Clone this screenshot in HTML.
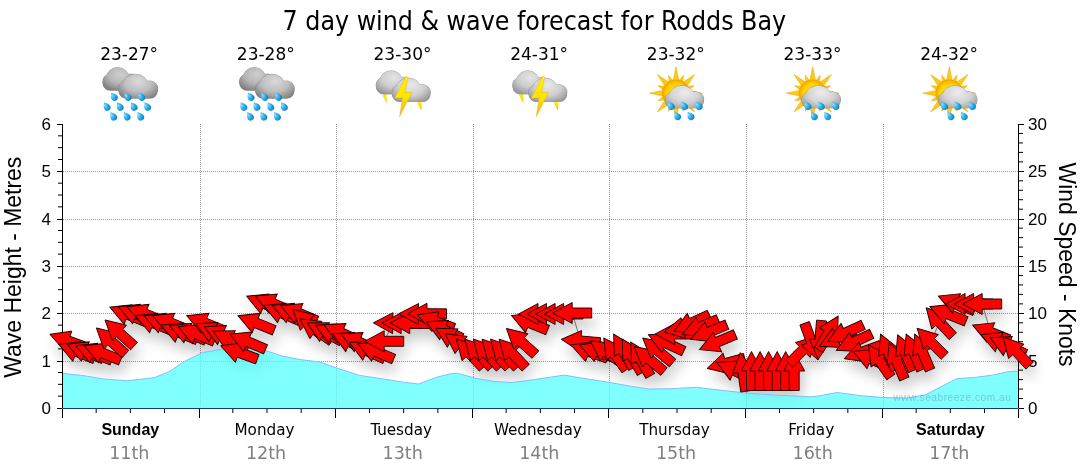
<!DOCTYPE html><html><head><meta charset="utf-8"><title>7 day wind &amp; wave forecast for Rodds Bay</title>
<style>html,body{margin:0;padding:0;background:#fff;width:1080px;height:475px;overflow:hidden}svg{display:block}.t{font-family:"DejaVu Sans Condensed","DejaVu Sans","Liberation Sans",sans-serif;font-stretch:condensed}.a{font-family:"Liberation Sans",Arial,sans-serif}.m{font-family:"DejaVu Sans Mono","Liberation Mono",monospace}.v{font-family:"DejaVu Sans","Liberation Sans",sans-serif}</style></head><body>
<svg width="1080" height="475" viewBox="0 0 1080 475">
<defs><filter id="sh" x="-10%" y="-20%" width="130%" height="160%"><feGaussianBlur in="SourceAlpha" stdDeviation="6.5"/><feOffset dx="3" dy="9" result="b"/><feComponentTransfer><feFuncA type="linear" slope="0.22"/></feComponentTransfer></filter><radialGradient id="dropg" cx="0.35" cy="0.3" r="0.8"><stop offset="0" stop-color="#8fe0ff"/><stop offset="0.5" stop-color="#2fb0ea"/><stop offset="1" stop-color="#0a78c0"/></radialGradient><linearGradient id="boltg" x1="0" y1="0" x2="0" y2="1"><stop offset="0" stop-color="#fff200"/><stop offset="0.55" stop-color="#ffe200"/><stop offset="1" stop-color="#f0a830"/></linearGradient><radialGradient id="sung" cx="0.5" cy="0.5" r="0.5"><stop offset="0" stop-color="#ffe400"/><stop offset="0.7" stop-color="#ffd200"/><stop offset="1" stop-color="#f0a000"/></radialGradient><linearGradient id="rayg" x1="0" y1="0" x2="1" y2="0"><stop offset="0" stop-color="#f5b000"/><stop offset="0.5" stop-color="#ffe000"/><stop offset="1" stop-color="#f5b000"/></linearGradient><radialGradient id="rc1" gradientUnits="userSpaceOnUse" cx="-10.1" cy="74.4" r="22.4" gradientTransform="translate(-10.1,74.4) scale(1,0.75) translate(10.1,-74.4)"><stop offset="0" stop-color="#cfcfcf"/><stop offset="0.55" stop-color="#b5b5b5"/><stop offset="1" stop-color="#808080"/></radialGradient><radialGradient id="rc2" gradientUnits="userSpaceOnUse" cx="7.9" cy="81.4" r="25.2" gradientTransform="translate(7.9,81.4) scale(1,0.75) translate(-7.9,-81.4)"><stop offset="0" stop-color="#dadada"/><stop offset="0.55" stop-color="#bebebe"/><stop offset="1" stop-color="#828282"/></radialGradient><radialGradient id="sc1" gradientUnits="userSpaceOnUse" cx="-10.0" cy="77.8" r="22.7" gradientTransform="translate(-10.0,77.8) scale(1,0.75) translate(10.0,-77.8)"><stop offset="0" stop-color="#e4e4e4"/><stop offset="0.55" stop-color="#cdcdcd"/><stop offset="1" stop-color="#989898"/></radialGradient><radialGradient id="sc2" gradientUnits="userSpaceOnUse" cx="7.5" cy="85.2" r="24.7" gradientTransform="translate(7.5,85.2) scale(1,0.75) translate(-7.5,-85.2)"><stop offset="0" stop-color="#e8e8e8"/><stop offset="0.55" stop-color="#d0d0d0"/><stop offset="1" stop-color="#989898"/></radialGradient><radialGradient id="uc1" gradientUnits="userSpaceOnUse" cx="7.5" cy="92.4" r="24.9" gradientTransform="translate(7.5,92.4) scale(1,0.75) translate(-7.5,-92.4)"><stop offset="0" stop-color="#ececec"/><stop offset="0.55" stop-color="#d4d4d4"/><stop offset="1" stop-color="#9c9c9c"/></radialGradient><g id="rain"><g fill="url(#rc1)" stroke="#7a7a7a" stroke-width="0.9" stroke-opacity="0.75"><rect x="-27.12" y="77.13" width="33.93" height="13.17" rx="6.58"/><ellipse cx="-12.68" cy="77.13" rx="10.83" ry="9.53"/><ellipse cx="-0.04" cy="81.22" rx="7.22" ry="7.26"/><ellipse cx="-22.06" cy="81.67" rx="5.42" ry="6.81"/></g><g fill="url(#rc1)"><rect x="-27.12" y="77.13" width="33.93" height="13.17" rx="6.58"/><ellipse cx="-12.68" cy="77.13" rx="10.83" ry="9.53"/><ellipse cx="-0.04" cy="81.22" rx="7.22" ry="7.26"/><ellipse cx="-22.06" cy="81.67" rx="5.42" ry="6.81"/></g><g fill="url(#rc2)" stroke="#7a7a7a" stroke-width="0.9" stroke-opacity="0.75"><rect x="-11.28" y="84.28" width="38.26" height="13.92" rx="6.96"/><ellipse cx="5.00" cy="84.28" rx="12.21" ry="10.08"/><ellipse cx="19.25" cy="88.60" rx="8.14" ry="7.68"/><ellipse cx="-5.58" cy="89.08" rx="6.11" ry="7.20"/></g><g fill="url(#rc2)"><rect x="-11.28" y="84.28" width="38.26" height="13.92" rx="6.96"/><ellipse cx="5.00" cy="84.28" rx="12.21" ry="10.08"/><ellipse cx="19.25" cy="88.60" rx="8.14" ry="7.68"/><ellipse cx="-5.58" cy="89.08" rx="6.11" ry="7.20"/></g><path d="M0,-6.2 C1.2,-4.2 3.4,-2.4 3.4,0 A3.4,3.4 0 1,1 -3.4,0 C-3.4,-2.4 -1.2,-4.2 0,-6.2Z" transform="translate(-15.9,97.6) rotate(-32) scale(0.98)" fill="url(#dropg)"/><path d="M0,-6.2 C1.2,-4.2 3.4,-2.4 3.4,0 A3.4,3.4 0 1,1 -3.4,0 C-3.4,-2.4 -1.2,-4.2 0,-6.2Z" transform="translate(-2.2,97.6) rotate(-32) scale(0.98)" fill="url(#dropg)"/><path d="M0,-6.2 C1.2,-4.2 3.4,-2.4 3.4,0 A3.4,3.4 0 1,1 -3.4,0 C-3.4,-2.4 -1.2,-4.2 0,-6.2Z" transform="translate(11.5,97.6) rotate(-32) scale(0.98)" fill="url(#dropg)"/><path d="M0,-6.2 C1.2,-4.2 3.4,-2.4 3.4,0 A3.4,3.4 0 1,1 -3.4,0 C-3.4,-2.4 -1.2,-4.2 0,-6.2Z" transform="translate(-23.1,107.4) rotate(-32) scale(0.98)" fill="url(#dropg)"/><path d="M0,-6.2 C1.2,-4.2 3.4,-2.4 3.4,0 A3.4,3.4 0 1,1 -3.4,0 C-3.4,-2.4 -1.2,-4.2 0,-6.2Z" transform="translate(-10.0,107.4) rotate(-32) scale(0.98)" fill="url(#dropg)"/><path d="M0,-6.2 C1.2,-4.2 3.4,-2.4 3.4,0 A3.4,3.4 0 1,1 -3.4,0 C-3.4,-2.4 -1.2,-4.2 0,-6.2Z" transform="translate(3.9,107.4) rotate(-32) scale(0.98)" fill="url(#dropg)"/><path d="M0,-6.2 C1.2,-4.2 3.4,-2.4 3.4,0 A3.4,3.4 0 1,1 -3.4,0 C-3.4,-2.4 -1.2,-4.2 0,-6.2Z" transform="translate(17.4,107.4) rotate(-32) scale(0.98)" fill="url(#dropg)"/><path d="M0,-6.2 C1.2,-4.2 3.4,-2.4 3.4,0 A3.4,3.4 0 1,1 -3.4,0 C-3.4,-2.4 -1.2,-4.2 0,-6.2Z" transform="translate(-16.5,117.2) rotate(-32) scale(0.98)" fill="url(#dropg)"/><path d="M0,-6.2 C1.2,-4.2 3.4,-2.4 3.4,0 A3.4,3.4 0 1,1 -3.4,0 C-3.4,-2.4 -1.2,-4.2 0,-6.2Z" transform="translate(-3.1,117.2) rotate(-32) scale(0.98)" fill="url(#dropg)"/><path d="M0,-6.2 C1.2,-4.2 3.4,-2.4 3.4,0 A3.4,3.4 0 1,1 -3.4,0 C-3.4,-2.4 -1.2,-4.2 0,-6.2Z" transform="translate(10.5,117.2) rotate(-32) scale(0.98)" fill="url(#dropg)"/></g><g id="storm"><path d="M-22.5,91.5 L-18.5,92 L-19.8,94.2 L-17.3,94 L-16.8,103.5 L-21.5,94.8 L-19.5,95 Z" fill="url(#boltg)"/><path d="M11.5,100.5 L19.5,100.5 L16.5,102.8 L18.5,102.8 L17.5,110.5 L13.5,103 L15,103 Z" fill="url(#boltg)"/><g fill="url(#sc1)" stroke="#7a7a7a" stroke-width="0.9" stroke-opacity="0.75"><rect x="-27.20" y="80.54" width="34.40" height="13.46" rx="6.73"/><ellipse cx="-12.56" cy="80.54" rx="10.98" ry="9.74"/><ellipse cx="0.25" cy="84.72" rx="7.32" ry="7.42"/><ellipse cx="-22.08" cy="85.18" rx="5.49" ry="6.96"/></g><g fill="url(#sc1)"><rect x="-27.20" y="80.54" width="34.40" height="13.46" rx="6.73"/><ellipse cx="-12.56" cy="80.54" rx="10.98" ry="9.74"/><ellipse cx="0.25" cy="84.72" rx="7.32" ry="7.42"/><ellipse cx="-22.08" cy="85.18" rx="5.49" ry="6.96"/></g><g fill="url(#sc2)" stroke="#7a7a7a" stroke-width="0.9" stroke-opacity="0.75"><rect x="-11.20" y="87.99" width="37.51" height="13.51" rx="6.76"/><ellipse cx="4.76" cy="87.99" rx="11.97" ry="9.79"/><ellipse cx="18.72" cy="92.18" rx="7.98" ry="7.46"/><ellipse cx="-5.62" cy="92.65" rx="5.98" ry="6.99"/></g><g fill="url(#sc2)"><rect x="-11.20" y="87.99" width="37.51" height="13.51" rx="6.76"/><ellipse cx="4.76" cy="87.99" rx="11.97" ry="9.79"/><ellipse cx="18.72" cy="92.18" rx="7.98" ry="7.46"/><ellipse cx="-5.62" cy="92.65" rx="5.98" ry="6.99"/></g><path d="M2.5,76.0 L4.4,77.3 L1.2,92.6 L8.3,92.3 L-4.1,116.8 L-1.2,97.8 L-9.1,98.3Z" fill="url(#boltg)" stroke="#e8b000" stroke-width="0.4"/></g><g id="sunrain"><path d="M-1.0,66.7 L2.2,82.2 L-4.2,82.2Z M6.5,75.2 L5.6,84.0 L0.8,82.0Z M17.7,74.5 L9.0,87.7 L4.5,83.2Z M17.0,85.7 L10.2,91.4 L8.2,86.6Z M25.5,93.2 L10.0,96.4 L10.0,90.0Z M17.0,100.7 L8.2,99.8 L10.2,95.0Z M17.7,111.9 L4.5,103.2 L9.0,98.7Z M6.5,111.2 L0.8,104.4 L5.6,102.4Z M-1.0,119.7 L-4.2,104.2 L2.2,104.2Z M-8.5,111.2 L-7.6,102.4 L-2.8,104.4Z M-19.7,111.9 L-11.0,98.7 L-6.5,103.2Z M-19.0,100.7 L-12.2,95.0 L-10.2,99.8Z M-27.5,93.2 L-12.0,90.0 L-12.0,96.4Z M-19.0,85.7 L-10.2,86.6 L-12.2,91.4Z M-19.7,74.5 L-6.5,83.2 L-11.0,87.7Z M-8.5,75.2 L-2.8,82.0 L-7.6,84.0Z" fill="#fccc10" stroke="#f0a000" stroke-width="0.5"/><circle cx="-1" cy="93.2" r="13.8" fill="url(#sung)"/><g fill="url(#uc1)" stroke="#7a7a7a" stroke-width="0.9" stroke-opacity="0.75"><rect x="-11.39" y="95.08" width="37.79" height="12.82" rx="6.41"/><ellipse cx="4.69" cy="95.08" rx="12.06" ry="9.28"/><ellipse cx="18.76" cy="99.06" rx="8.04" ry="7.07"/><ellipse cx="-5.77" cy="99.50" rx="6.03" ry="6.63"/></g><g fill="url(#uc1)"><rect x="-11.39" y="95.08" width="37.79" height="12.82" rx="6.41"/><ellipse cx="4.69" cy="95.08" rx="12.06" ry="9.28"/><ellipse cx="18.76" cy="99.06" rx="8.04" ry="7.07"/><ellipse cx="-5.77" cy="99.50" rx="6.03" ry="6.63"/></g><path d="M0,-6.2 C1.2,-4.2 3.4,-2.4 3.4,0 A3.4,3.4 0 1,1 -3.4,0 C-3.4,-2.4 -1.2,-4.2 0,-6.2Z" transform="translate(-5.6,106.7) rotate(-32) scale(0.98)" fill="url(#dropg)"/><path d="M0,-6.2 C1.2,-4.2 3.4,-2.4 3.4,0 A3.4,3.4 0 1,1 -3.4,0 C-3.4,-2.4 -1.2,-4.2 0,-6.2Z" transform="translate(7.7,106.7) rotate(-32) scale(0.98)" fill="url(#dropg)"/><path d="M0,-6.2 C1.2,-4.2 3.4,-2.4 3.4,0 A3.4,3.4 0 1,1 -3.4,0 C-3.4,-2.4 -1.2,-4.2 0,-6.2Z" transform="translate(22.2,106.7) rotate(-32) scale(0.98)" fill="url(#dropg)"/><path d="M0,-6.2 C1.2,-4.2 3.4,-2.4 3.4,0 A3.4,3.4 0 1,1 -3.4,0 C-3.4,-2.4 -1.2,-4.2 0,-6.2Z" transform="translate(0.7,116.8) rotate(-32) scale(0.98)" fill="url(#dropg)"/><path d="M0,-6.2 C1.2,-4.2 3.4,-2.4 3.4,0 A3.4,3.4 0 1,1 -3.4,0 C-3.4,-2.4 -1.2,-4.2 0,-6.2Z" transform="translate(14.0,116.8) rotate(-32) scale(0.98)" fill="url(#dropg)"/></g><path id="arr" d="M19.5,0 L0,-10.5 L0,-5 L-19.5,-5 L-19.5,5 L0,5 L0,10.5Z"/></defs>
<text class="t" x="282.6" y="30" font-size="27" textLength="503.5" lengthAdjust="spacingAndGlyphs" fill="#000">7 day wind &amp; wave forecast for Rodds Bay</text>
<text class="v" x="129.1" y="59.7" font-size="17" text-anchor="middle" fill="#000">23-27°</text>
<use href="#rain" x="130.3" y="0"/>
<text class="v" x="265.8" y="59.7" font-size="17" text-anchor="middle" fill="#000">23-28°</text>
<use href="#rain" x="267.0" y="0"/>
<text class="v" x="402.5" y="59.7" font-size="17" text-anchor="middle" fill="#000">23-30°</text>
<use href="#storm" x="403.7" y="0"/>
<text class="v" x="539.1" y="59.7" font-size="17" text-anchor="middle" fill="#000">24-31°</text>
<use href="#storm" x="540.3" y="0"/>
<text class="v" x="675.8" y="59.7" font-size="17" text-anchor="middle" fill="#000">23-32°</text>
<use href="#sunrain" x="677.0" y="0"/>
<text class="v" x="812.5" y="59.7" font-size="17" text-anchor="middle" fill="#000">23-33°</text>
<use href="#sunrain" x="813.7" y="0"/>
<text class="v" x="949.1" y="59.7" font-size="17" text-anchor="middle" fill="#000">24-32°</text>
<use href="#sunrain" x="950.3" y="0"/>
<path d="M63 361.5H1018 M63 313.5H1018 M63 266.5H1018 M63 219.5H1018 M63 171.5H1018 M200.5 124V408 M336.5 124V408 M473.5 124V408 M609.5 124V408 M746.5 124V408 M883.5 124V408" stroke="#999" stroke-width="1" stroke-dasharray="1 1" fill="none"/>
<g filter="url(#sh)"><use href="#arr" transform="translate(68.2,341.0) rotate(200)"/><use href="#arr" transform="translate(76.7,351.5) rotate(202)"/><use href="#arr" transform="translate(85.3,351.5) rotate(202)"/><use href="#arr" transform="translate(93.8,353.0) rotate(202)"/><use href="#arr" transform="translate(102.4,353.0) rotate(202)"/><use href="#arr" transform="translate(110.9,341.0) rotate(222)"/><use href="#arr" transform="translate(119.5,333.0) rotate(222)"/><use href="#arr" transform="translate(128.0,314.5) rotate(202)"/><use href="#arr" transform="translate(136.5,314.0) rotate(202)"/><use href="#arr" transform="translate(145.1,314.0) rotate(202)"/><use href="#arr" transform="translate(153.6,323.0) rotate(202)"/><use href="#arr" transform="translate(162.2,323.0) rotate(202)"/><use href="#arr" transform="translate(170.7,323.0) rotate(202)"/><use href="#arr" transform="translate(179.2,332.5) rotate(202)"/><use href="#arr" transform="translate(187.8,333.0) rotate(202)"/><use href="#arr" transform="translate(196.3,334.0) rotate(202)"/><use href="#arr" transform="translate(204.9,323.0) rotate(202)"/><use href="#arr" transform="translate(213.4,332.0) rotate(205)"/><use href="#arr" transform="translate(222.0,335.0) rotate(205)"/><use href="#arr" transform="translate(230.5,340.0) rotate(207)"/><use href="#arr" transform="translate(239.0,352.5) rotate(200)"/><use href="#arr" transform="translate(247.6,341.7) rotate(203)"/><use href="#arr" transform="translate(256.1,323.0) rotate(202)"/><use href="#arr" transform="translate(264.7,303.8) rotate(203)"/><use href="#arr" transform="translate(273.2,303.7) rotate(203)"/><use href="#arr" transform="translate(281.7,313.0) rotate(203)"/><use href="#arr" transform="translate(290.3,313.0) rotate(203)"/><use href="#arr" transform="translate(298.8,313.3) rotate(203)"/><use href="#arr" transform="translate(307.4,322.5) rotate(222)"/><use href="#arr" transform="translate(315.9,330.0) rotate(215)"/><use href="#arr" transform="translate(324.5,332.0) rotate(208)"/><use href="#arr" transform="translate(333.0,333.5) rotate(205)"/><use href="#arr" transform="translate(341.5,333.0) rotate(205)"/><use href="#arr" transform="translate(350.1,342.0) rotate(205)"/><use href="#arr" transform="translate(358.6,342.0) rotate(205)"/><use href="#arr" transform="translate(367.2,350.7) rotate(205)"/><use href="#arr" transform="translate(375.7,351.4) rotate(203)"/><use href="#arr" transform="translate(384.2,341.3) rotate(180)"/><use href="#arr" transform="translate(392.8,323.2) rotate(181)"/><use href="#arr" transform="translate(401.3,323.2) rotate(181)"/><use href="#arr" transform="translate(409.9,323.2) rotate(181)"/><use href="#arr" transform="translate(418.4,314.0) rotate(181)"/><use href="#arr" transform="translate(427.0,313.8) rotate(180)"/><use href="#arr" transform="translate(435.5,321.6) rotate(200)"/><use href="#arr" transform="translate(444.0,330.0) rotate(205)"/><use href="#arr" transform="translate(452.6,338.0) rotate(210)"/><use href="#arr" transform="translate(461.1,345.0) rotate(215)"/><use href="#arr" transform="translate(469.7,353.4) rotate(227)"/><use href="#arr" transform="translate(478.2,353.4) rotate(227)"/><use href="#arr" transform="translate(486.7,353.4) rotate(227)"/><use href="#arr" transform="translate(495.3,353.4) rotate(227)"/><use href="#arr" transform="translate(503.8,353.4) rotate(227)"/><use href="#arr" transform="translate(512.4,353.4) rotate(227)"/><use href="#arr" transform="translate(520.9,341.5) rotate(222)"/><use href="#arr" transform="translate(529.5,322.8) rotate(202)"/><use href="#arr" transform="translate(538.0,314.0) rotate(180)"/><use href="#arr" transform="translate(546.5,314.0) rotate(180)"/><use href="#arr" transform="translate(555.1,314.0) rotate(180)"/><use href="#arr" transform="translate(563.6,314.0) rotate(180)"/><use href="#arr" transform="translate(572.2,313.0) rotate(180)"/><use href="#arr" transform="translate(580.7,341.0) rotate(185)"/><use href="#arr" transform="translate(589.2,351.6) rotate(200)"/><use href="#arr" transform="translate(597.8,351.6) rotate(200)"/><use href="#arr" transform="translate(606.3,352.0) rotate(215)"/><use href="#arr" transform="translate(614.9,354.0) rotate(235)"/><use href="#arr" transform="translate(623.4,351.0) rotate(240)"/><use href="#arr" transform="translate(632.0,356.0) rotate(240)"/><use href="#arr" transform="translate(640.5,359.0) rotate(240)"/><use href="#arr" transform="translate(649.0,359.0) rotate(220)"/><use href="#arr" transform="translate(657.6,350.5) rotate(220)"/><use href="#arr" transform="translate(666.1,343.0) rotate(205)"/><use href="#arr" transform="translate(674.7,334.0) rotate(180)"/><use href="#arr" transform="translate(683.2,328.0) rotate(168)"/><use href="#arr" transform="translate(691.7,323.0) rotate(155)"/><use href="#arr" transform="translate(700.3,327.0) rotate(157)"/><use href="#arr" transform="translate(708.8,332.0) rotate(158)"/><use href="#arr" transform="translate(717.4,342.0) rotate(157)"/><use href="#arr" transform="translate(725.9,363.4) rotate(165)"/><use href="#arr" transform="translate(734.5,370.6) rotate(205)"/><use href="#arr" transform="translate(743.0,372.0) rotate(262)"/><use href="#arr" transform="translate(751.5,371.0) rotate(270)"/><use href="#arr" transform="translate(760.1,371.0) rotate(270)"/><use href="#arr" transform="translate(768.6,371.0) rotate(270)"/><use href="#arr" transform="translate(777.2,371.0) rotate(270)"/><use href="#arr" transform="translate(785.7,371.0) rotate(270)"/><use href="#arr" transform="translate(794.2,371.0) rotate(270)"/><use href="#arr" transform="translate(802.8,350.0) rotate(315)"/><use href="#arr" transform="translate(811.3,341.6) rotate(70)"/><use href="#arr" transform="translate(819.9,340.0) rotate(95)"/><use href="#arr" transform="translate(828.4,333.0) rotate(300)"/><use href="#arr" transform="translate(837.0,338.0) rotate(155)"/><use href="#arr" transform="translate(845.5,333.0) rotate(155)"/><use href="#arr" transform="translate(854.0,342.0) rotate(155)"/><use href="#arr" transform="translate(862.6,352.0) rotate(160)"/><use href="#arr" transform="translate(871.1,359.0) rotate(203)"/><use href="#arr" transform="translate(879.7,361.0) rotate(235)"/><use href="#arr" transform="translate(888.2,352.0) rotate(247)"/><use href="#arr" transform="translate(896.7,361.0) rotate(247)"/><use href="#arr" transform="translate(905.3,352.8) rotate(247)"/><use href="#arr" transform="translate(913.8,352.0) rotate(247)"/><use href="#arr" transform="translate(922.4,352.0) rotate(247)"/><use href="#arr" transform="translate(930.9,342.0) rotate(225)"/><use href="#arr" transform="translate(939.5,322.0) rotate(227)"/><use href="#arr" transform="translate(948.0,314.0) rotate(202)"/><use href="#arr" transform="translate(956.5,303.4) rotate(202)"/><use href="#arr" transform="translate(965.1,304.0) rotate(180)"/><use href="#arr" transform="translate(973.6,304.0) rotate(180)"/><use href="#arr" transform="translate(982.2,304.0) rotate(180)"/><use href="#arr" transform="translate(990.7,332.4) rotate(202)"/><use href="#arr" transform="translate(999.2,342.0) rotate(202)"/><use href="#arr" transform="translate(1007.8,346.0) rotate(205)"/><use href="#arr" transform="translate(1016.3,351.4) rotate(227)"/></g>
<path d="M62.0,373.3 L83.3,375.6 L102.8,378.9 L127.4,380.8 L154.6,377.6 L170.2,371.1 L184.4,361.4 L203.0,352.5 L222.4,349.0 L240.0,349.3 L267.8,351.2 L280.7,355.7 L300.2,359.6 L319.8,362.0 L336.9,368.1 L358.9,375.3 L384.8,379.2 L404.3,382.4 L418.5,384.0 L436.7,377.2 L451.0,373.6 L457.8,373.4 L475.9,378.3 L495.4,381.6 L512.2,382.5 L534.3,379.6 L564.1,375.1 L579.8,377.8 L609.8,382.5 L631.9,386.4 L648.7,389.0 L670.7,388.7 L696.7,387.3 L710.0,389.0 L746.3,393.1 L774.8,395.1 L811.1,396.8 L820.2,395.7 L837.0,392.5 L861.7,395.8 L883.3,397.5 L906.7,398.0 L925.0,395.0 L956.7,378.7 L976.7,377.2 L993.3,375.0 L1008.3,371.7 L1018.7,371.0 L1018.67,408 L62,408Z" fill="#56ffff" fill-opacity="0.75"/>
<path d="M62.0,373.3 L83.3,375.6 L102.8,378.9 L127.4,380.8 L154.6,377.6 L170.2,371.1 L184.4,361.4 L203.0,352.5 L222.4,349.0 L240.0,349.3 L267.8,351.2 L280.7,355.7 L300.2,359.6 L319.8,362.0 L336.9,368.1 L358.9,375.3 L384.8,379.2 L404.3,382.4 L418.5,384.0 L436.7,377.2 L451.0,373.6 L457.8,373.4 L475.9,378.3 L495.4,381.6 L512.2,382.5 L534.3,379.6 L564.1,375.1 L579.8,377.8 L609.8,382.5 L631.9,386.4 L648.7,389.0 L670.7,388.7 L696.7,387.3 L710.0,389.0 L746.3,393.1 L774.8,395.1 L811.1,396.8 L820.2,395.7 L837.0,392.5 L861.7,395.8 L883.3,397.5 L906.7,398.0 L925.0,395.0 L956.7,378.7 L976.7,377.2 L993.3,375.0 L1008.3,371.7 L1018.7,371.0" fill="none" stroke="#80bfff" stroke-width="1"/>
<text class="a" x="893.3" y="400.5" font-size="10.2" fill="#6080a0" fill-opacity="0.42" textLength="117.5" lengthAdjust="spacing">www.seabreeze.com.au</text>
<path d="M62.5 124V408.5 M1018.5 124V408.5 M57 408.5H62 M57 361.5H62 M57 313.5H62 M57 266.5H62 M57 219.5H62 M57 171.5H62 M57 124.5H62 M58 396.17H62 M58 384.33H62 M58 372.50H62 M58 348.83H62 M58 337.00H62 M58 325.17H62 M58 301.50H62 M58 289.67H62 M58 277.83H62 M58 254.17H62 M58 242.33H62 M58 230.50H62 M58 206.83H62 M58 195.00H62 M58 183.17H62 M58 159.50H62 M58 147.67H62 M58 135.83H62 M1019 408.5H1024 M1019 398.53H1023 M1019 389.07H1023 M1019 379.60H1023 M1019 370.13H1023 M1019 361.5H1024 M1019 351.20H1023 M1019 341.73H1023 M1019 332.27H1023 M1019 322.80H1023 M1019 313.5H1024 M1019 303.87H1023 M1019 294.40H1023 M1019 284.93H1023 M1019 275.47H1023 M1019 266.5H1024 M1019 256.53H1023 M1019 247.07H1023 M1019 237.60H1023 M1019 228.13H1023 M1019 219.5H1024 M1019 209.20H1023 M1019 199.73H1023 M1019 190.27H1023 M1019 180.80H1023 M1019 171.5H1024 M1019 161.87H1023 M1019 152.40H1023 M1019 142.93H1023 M1019 133.47H1023 M1019 124.5H1024 M62.5 409V418 M96.17 409V413 M130.33 409V413 M164.50 409V413 M199.5 409V418 M232.83 409V413 M267.00 409V413 M301.17 409V413 M335.5 409V418 M369.50 409V413 M403.67 409V413 M437.83 409V413 M472.5 409V418 M506.17 409V413 M540.34 409V413 M574.50 409V413 M608.5 409V418 M642.84 409V413 M677.00 409V413 M711.17 409V413 M745.5 409V418 M779.50 409V413 M813.67 409V413 M847.84 409V413 M882.5 409V418 M916.17 409V413 M950.34 409V413 M984.50 409V413 M1018.5 409V418" stroke="#000" stroke-width="1" fill="none"/>
<path d="M63 408.5H1018" stroke="#0b3d6b" stroke-width="1"/>
<text class="a" x="51" y="414.0" font-size="17" text-anchor="end">0</text>
<text class="a" x="51" y="366.7" font-size="17" text-anchor="end">1</text>
<text class="a" x="51" y="319.3" font-size="17" text-anchor="end">2</text>
<text class="a" x="51" y="272.0" font-size="17" text-anchor="end">3</text>
<text class="a" x="51" y="224.7" font-size="17" text-anchor="end">4</text>
<text class="a" x="51" y="177.3" font-size="17" text-anchor="end">5</text>
<text class="a" x="51" y="130.0" font-size="17" text-anchor="end">6</text>
<text class="a" x="1028" y="414.0" font-size="17">0</text>
<text class="a" x="1028" y="366.7" font-size="17">5</text>
<text class="a" x="1028" y="319.3" font-size="17">10</text>
<text class="a" x="1028" y="272.0" font-size="17">15</text>
<text class="a" x="1028" y="224.7" font-size="17">20</text>
<text class="a" x="1028" y="177.3" font-size="17">25</text>
<text class="a" x="1028" y="130.0" font-size="17">30</text>
<text class="a" transform="translate(20.8,377.7) rotate(-90)" font-size="23" textLength="221" lengthAdjust="spacingAndGlyphs">Wave Height - Metres</text>
<text class="a" transform="translate(1058.9,162.6) rotate(90)" font-size="23" textLength="204" lengthAdjust="spacingAndGlyphs">Wind Speed - Knots</text>
<text class="a" x="130.3" y="435" font-size="16" font-weight="bold" text-anchor="middle">Sunday</text>
<text class="v" x="129.3" y="458.8" font-size="17.5" fill="#808080" text-anchor="middle">11th</text>
<text class="t" x="264.5" y="435" font-size="16" text-anchor="middle" textLength="60.0" lengthAdjust="spacingAndGlyphs">Monday</text>
<text class="v" x="266.0" y="458.8" font-size="17.5" fill="#808080" text-anchor="middle">12th</text>
<text class="t" x="401.2" y="435" font-size="16" text-anchor="middle" textLength="61.5" lengthAdjust="spacingAndGlyphs">Tuesday</text>
<text class="v" x="402.7" y="458.8" font-size="17.5" fill="#808080" text-anchor="middle">13th</text>
<text class="t" x="537.8" y="435" font-size="16" text-anchor="middle" textLength="87.8" lengthAdjust="spacingAndGlyphs">Wednesday</text>
<text class="v" x="539.3" y="458.8" font-size="17.5" fill="#808080" text-anchor="middle">14th</text>
<text class="t" x="674.5" y="435" font-size="16" text-anchor="middle" textLength="70.6" lengthAdjust="spacingAndGlyphs">Thursday</text>
<text class="v" x="676.0" y="458.8" font-size="17.5" fill="#808080" text-anchor="middle">15th</text>
<text class="t" x="811.2" y="435" font-size="16" text-anchor="middle" textLength="45.9" lengthAdjust="spacingAndGlyphs">Friday</text>
<text class="v" x="812.7" y="458.8" font-size="17.5" fill="#808080" text-anchor="middle">16th</text>
<text class="a" x="950.3" y="435" font-size="16" font-weight="bold" text-anchor="middle">Saturday</text>
<text class="v" x="949.3" y="458.8" font-size="17.5" fill="#808080" text-anchor="middle">17th</text>
<polyline points="68.2,341.0 76.7,351.5 85.3,351.5 93.8,353.0 102.4,353.0 110.9,341.0 119.5,333.0 128.0,314.5 136.5,314.0 145.1,314.0 153.6,323.0 162.2,323.0 170.7,323.0 179.2,332.5 187.8,333.0 196.3,334.0 204.9,323.0 213.4,332.0 222.0,335.0 230.5,340.0 239.0,352.5 247.6,341.7 256.1,323.0 264.7,303.8 273.2,303.7 281.7,313.0 290.3,313.0 298.8,313.3 307.4,322.5 315.9,330.0 324.5,332.0 333.0,333.5 341.5,333.0 350.1,342.0 358.6,342.0 367.2,350.7 375.7,351.4 384.2,341.3 392.8,323.2 401.3,323.2 409.9,323.2 418.4,314.0 427.0,313.8 435.5,321.6 444.0,330.0 452.6,338.0 461.1,345.0 469.7,353.4 478.2,353.4 486.7,353.4 495.3,353.4 503.8,353.4 512.4,353.4 520.9,341.5 529.5,322.8 538.0,314.0 546.5,314.0 555.1,314.0 563.6,314.0 572.2,313.0 580.7,341.0 589.2,351.6 597.8,351.6 606.3,352.0 614.9,354.0 623.4,351.0 632.0,356.0 640.5,359.0 649.0,359.0 657.6,350.5 666.1,343.0 674.7,334.0 683.2,328.0 691.7,323.0 700.3,327.0 708.8,332.0 717.4,342.0 725.9,363.4 734.5,370.6 743.0,372.0 751.5,371.0 760.1,371.0 768.6,371.0 777.2,371.0 785.7,371.0 794.2,371.0 802.8,350.0 811.3,341.6 819.9,340.0 828.4,333.0 837.0,338.0 845.5,333.0 854.0,342.0 862.6,352.0 871.1,359.0 879.7,361.0 888.2,352.0 896.7,361.0 905.3,352.8 913.8,352.0 922.4,352.0 930.9,342.0 939.5,322.0 948.0,314.0 956.5,303.4 965.1,304.0 973.6,304.0 982.2,304.0 990.7,332.4 999.2,342.0 1007.8,346.0 1016.3,351.4" fill="none" stroke="#666" stroke-width="0.9"/>
<g fill="#ff0000" stroke="#1a0000" stroke-width="0.9" stroke-linejoin="miter"><use href="#arr" transform="translate(68.2,341.0) rotate(200)"/><use href="#arr" transform="translate(76.7,351.5) rotate(202)"/><use href="#arr" transform="translate(85.3,351.5) rotate(202)"/><use href="#arr" transform="translate(93.8,353.0) rotate(202)"/><use href="#arr" transform="translate(102.4,353.0) rotate(202)"/><use href="#arr" transform="translate(110.9,341.0) rotate(222)"/><use href="#arr" transform="translate(119.5,333.0) rotate(222)"/><use href="#arr" transform="translate(128.0,314.5) rotate(202)"/><use href="#arr" transform="translate(136.5,314.0) rotate(202)"/><use href="#arr" transform="translate(145.1,314.0) rotate(202)"/><use href="#arr" transform="translate(153.6,323.0) rotate(202)"/><use href="#arr" transform="translate(162.2,323.0) rotate(202)"/><use href="#arr" transform="translate(170.7,323.0) rotate(202)"/><use href="#arr" transform="translate(179.2,332.5) rotate(202)"/><use href="#arr" transform="translate(187.8,333.0) rotate(202)"/><use href="#arr" transform="translate(196.3,334.0) rotate(202)"/><use href="#arr" transform="translate(204.9,323.0) rotate(202)"/><use href="#arr" transform="translate(213.4,332.0) rotate(205)"/><use href="#arr" transform="translate(222.0,335.0) rotate(205)"/><use href="#arr" transform="translate(230.5,340.0) rotate(207)"/><use href="#arr" transform="translate(239.0,352.5) rotate(200)"/><use href="#arr" transform="translate(247.6,341.7) rotate(203)"/><use href="#arr" transform="translate(256.1,323.0) rotate(202)"/><use href="#arr" transform="translate(264.7,303.8) rotate(203)"/><use href="#arr" transform="translate(273.2,303.7) rotate(203)"/><use href="#arr" transform="translate(281.7,313.0) rotate(203)"/><use href="#arr" transform="translate(290.3,313.0) rotate(203)"/><use href="#arr" transform="translate(298.8,313.3) rotate(203)"/><use href="#arr" transform="translate(307.4,322.5) rotate(222)"/><use href="#arr" transform="translate(315.9,330.0) rotate(215)"/><use href="#arr" transform="translate(324.5,332.0) rotate(208)"/><use href="#arr" transform="translate(333.0,333.5) rotate(205)"/><use href="#arr" transform="translate(341.5,333.0) rotate(205)"/><use href="#arr" transform="translate(350.1,342.0) rotate(205)"/><use href="#arr" transform="translate(358.6,342.0) rotate(205)"/><use href="#arr" transform="translate(367.2,350.7) rotate(205)"/><use href="#arr" transform="translate(375.7,351.4) rotate(203)"/><use href="#arr" transform="translate(384.2,341.3) rotate(180)"/><use href="#arr" transform="translate(392.8,323.2) rotate(181)"/><use href="#arr" transform="translate(401.3,323.2) rotate(181)"/><use href="#arr" transform="translate(409.9,323.2) rotate(181)"/><use href="#arr" transform="translate(418.4,314.0) rotate(181)"/><use href="#arr" transform="translate(427.0,313.8) rotate(180)"/><use href="#arr" transform="translate(435.5,321.6) rotate(200)"/><use href="#arr" transform="translate(444.0,330.0) rotate(205)"/><use href="#arr" transform="translate(452.6,338.0) rotate(210)"/><use href="#arr" transform="translate(461.1,345.0) rotate(215)"/><use href="#arr" transform="translate(469.7,353.4) rotate(227)"/><use href="#arr" transform="translate(478.2,353.4) rotate(227)"/><use href="#arr" transform="translate(486.7,353.4) rotate(227)"/><use href="#arr" transform="translate(495.3,353.4) rotate(227)"/><use href="#arr" transform="translate(503.8,353.4) rotate(227)"/><use href="#arr" transform="translate(512.4,353.4) rotate(227)"/><use href="#arr" transform="translate(520.9,341.5) rotate(222)"/><use href="#arr" transform="translate(529.5,322.8) rotate(202)"/><use href="#arr" transform="translate(538.0,314.0) rotate(180)"/><use href="#arr" transform="translate(546.5,314.0) rotate(180)"/><use href="#arr" transform="translate(555.1,314.0) rotate(180)"/><use href="#arr" transform="translate(563.6,314.0) rotate(180)"/><use href="#arr" transform="translate(572.2,313.0) rotate(180)"/><use href="#arr" transform="translate(580.7,341.0) rotate(185)"/><use href="#arr" transform="translate(589.2,351.6) rotate(200)"/><use href="#arr" transform="translate(597.8,351.6) rotate(200)"/><use href="#arr" transform="translate(606.3,352.0) rotate(215)"/><use href="#arr" transform="translate(614.9,354.0) rotate(235)"/><use href="#arr" transform="translate(623.4,351.0) rotate(240)"/><use href="#arr" transform="translate(632.0,356.0) rotate(240)"/><use href="#arr" transform="translate(640.5,359.0) rotate(240)"/><use href="#arr" transform="translate(649.0,359.0) rotate(220)"/><use href="#arr" transform="translate(657.6,350.5) rotate(220)"/><use href="#arr" transform="translate(666.1,343.0) rotate(205)"/><use href="#arr" transform="translate(674.7,334.0) rotate(180)"/><use href="#arr" transform="translate(683.2,328.0) rotate(168)"/><use href="#arr" transform="translate(691.7,323.0) rotate(155)"/><use href="#arr" transform="translate(700.3,327.0) rotate(157)"/><use href="#arr" transform="translate(708.8,332.0) rotate(158)"/><use href="#arr" transform="translate(717.4,342.0) rotate(157)"/><use href="#arr" transform="translate(725.9,363.4) rotate(165)"/><use href="#arr" transform="translate(734.5,370.6) rotate(205)"/><use href="#arr" transform="translate(743.0,372.0) rotate(262)"/><use href="#arr" transform="translate(751.5,371.0) rotate(270)"/><use href="#arr" transform="translate(760.1,371.0) rotate(270)"/><use href="#arr" transform="translate(768.6,371.0) rotate(270)"/><use href="#arr" transform="translate(777.2,371.0) rotate(270)"/><use href="#arr" transform="translate(785.7,371.0) rotate(270)"/><use href="#arr" transform="translate(794.2,371.0) rotate(270)"/><use href="#arr" transform="translate(802.8,350.0) rotate(315)"/><use href="#arr" transform="translate(811.3,341.6) rotate(70)"/><use href="#arr" transform="translate(819.9,340.0) rotate(95)"/><use href="#arr" transform="translate(828.4,333.0) rotate(300)"/><use href="#arr" transform="translate(837.0,338.0) rotate(155)"/><use href="#arr" transform="translate(845.5,333.0) rotate(155)"/><use href="#arr" transform="translate(854.0,342.0) rotate(155)"/><use href="#arr" transform="translate(862.6,352.0) rotate(160)"/><use href="#arr" transform="translate(871.1,359.0) rotate(203)"/><use href="#arr" transform="translate(879.7,361.0) rotate(235)"/><use href="#arr" transform="translate(888.2,352.0) rotate(247)"/><use href="#arr" transform="translate(896.7,361.0) rotate(247)"/><use href="#arr" transform="translate(905.3,352.8) rotate(247)"/><use href="#arr" transform="translate(913.8,352.0) rotate(247)"/><use href="#arr" transform="translate(922.4,352.0) rotate(247)"/><use href="#arr" transform="translate(930.9,342.0) rotate(225)"/><use href="#arr" transform="translate(939.5,322.0) rotate(227)"/><use href="#arr" transform="translate(948.0,314.0) rotate(202)"/><use href="#arr" transform="translate(956.5,303.4) rotate(202)"/><use href="#arr" transform="translate(965.1,304.0) rotate(180)"/><use href="#arr" transform="translate(973.6,304.0) rotate(180)"/><use href="#arr" transform="translate(982.2,304.0) rotate(180)"/><use href="#arr" transform="translate(990.7,332.4) rotate(202)"/><use href="#arr" transform="translate(999.2,342.0) rotate(202)"/><use href="#arr" transform="translate(1007.8,346.0) rotate(205)"/><use href="#arr" transform="translate(1016.3,351.4) rotate(227)"/></g>
</svg></body></html>
